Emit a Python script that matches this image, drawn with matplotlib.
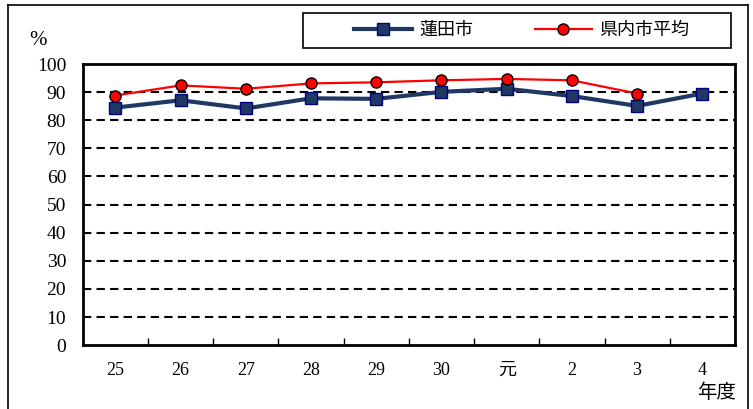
import matplotlib.pyplot as plt
from matplotlib.lines import Line2D
from matplotlib.patches import Rectangle
import numpy as np

plt.rcParams['font.family'] = ['Liberation Serif', 'Noto Sans CJK JP']

years = ['25', '26', '27', '28', '29', '30', '元', '2', '3', '4']
hasuda = [84.5, 87.1, 84.2, 87.8, 87.6, 90.1, 91.2, 88.6, 85.1, 89.5]
pref_avg = [88.8, 92.4, 91.2, 93.1, 93.5, 94.2, 94.7, 94.2, 89.5]
yticks = list(range(0, 101, 10))

fig = plt.figure(figsize=(7.53, 4.09), dpi=100)
ax = fig.add_axes([0.110, 0.156, 0.866, 0.6875])

x = np.arange(len(years))
ax.plot(x, hasuda, color='#1F3864', lw=3, marker='s', ms=8,
        mfc='#1F3864', mec='#000080', mew=1, label='蓮田市', zorder=3)
ax.plot(x[:len(pref_avg)], pref_avg, color='#FF0000', lw=1.6, marker='o', ms=8,
        mfc='#FF0000', mec='black', mew=1, label='県内市平均', zorder=4)

ax.set_xlim(-0.5, len(years) - 0.5)
ax.set_ylim(0, 100)
ax.set_yticks(yticks)
ax.set_yticklabels([str(v) for v in yticks], fontsize=14)
ax.set_xticks(x)
ax.set_xticklabels(years, fontsize=13)
ax.set_xticks(np.arange(0.5, len(years) - 1, 1), minor=True)
ax.tick_params(axis='x', which='major', length=0, pad=12)
ax.tick_params(axis='x', which='minor', direction='in', length=5, width=1)
ax.tick_params(axis='y', length=0, pad=12)

for v in yticks[1:-1]:
    ax.axhline(v, color='black', lw=1.5, ls=(0, (4, 2.5)), zorder=1)
for s in ax.spines.values():
    s.set_linewidth(2)

fig.text(0.051, 0.90, '%', fontsize=15, ha='center', va='center')
fig.text(0.952, 0.04, '年度', fontsize=14, ha='center', va='center',
         family=['Noto Sans CJK JP'])

# legend entries, with a plain box drawn around them
leg = fig.legend(loc='center', bbox_to_anchor=(0.693, 0.926), ncol=2,
                 prop={'family': 'Noto Sans CJK JP', 'size': 13},
                 frameon=False, handlelength=3.2, handletextpad=0.4,
                 columnspacing=3.4)
fig.add_artist(Rectangle((303 / 753, 1 - 48 / 409), 428 / 753, 35 / 409,
                         transform=fig.transFigure, fill=False,
                         edgecolor='black', lw=1.2))

# outer frame (open at the bottom)
fx0, fx1, fy = 8 / 753, 748 / 753, 1 - 5 / 409
for xs, ys in [([fx0, fx0], [0, fy]), ([fx0, fx1], [fy, fy]), ([fx1, fx1], [fy, 0])]:
    fig.add_artist(Line2D(xs, ys, color='black', lw=1.2, transform=fig.transFigure))

fig.savefig('out.png', dpi=100)
